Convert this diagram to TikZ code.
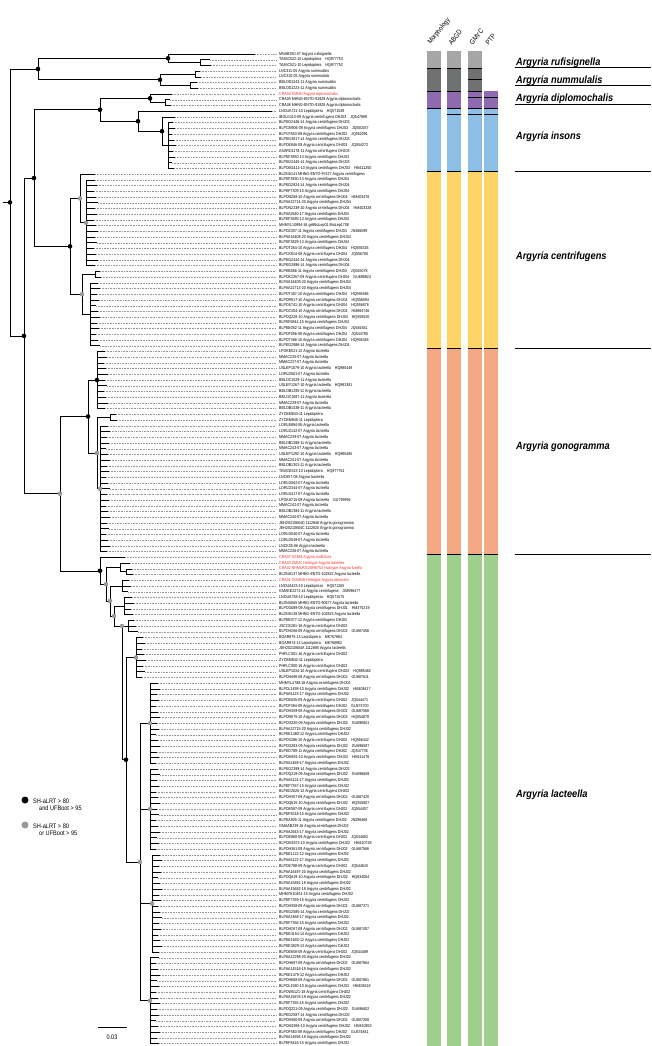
\documentclass[tikz,border=0pt]{standalone}
\usepackage{fontspec}
\setmainfont{Liberation Sans}
\newfontfamily\tipf[FakeStretch=0.86]{Liberation Sans}
\newfontfamily\cladef[FakeStretch=0.88]{Liberation Sans}
\definecolor{gL}{HTML}{A7A6A6}
\definecolor{gD}{HTML}{6F7172}
\definecolor{pur}{HTML}{8E6BB1}
\definecolor{blu}{HTML}{8DBFE6}
\definecolor{yel}{HTML}{FFD466}
\definecolor{sal}{HTML}{F4A883}
\definecolor{grn}{HTML}{9ECF8D}
\definecolor{tipred}{HTML}{E8332A}
\definecolor{dotg}{HTML}{999999}
\newcommand\rd{\color{tipred}}
\newcommand\g{\hspace{4pt}}
\def\Y#1{{54+(#1-1)*5.72}}
\def\B#1{{54+(#1-0.5)*5.72}}
\tikzset{
  br/.style={line width=0.6pt},
  lead/.style={line width=0.3pt, dotg, dash pattern=on 0.8pt off 0.8pt},
  tip/.style={anchor=west, inner sep=0pt, font=\tipf\fontsize{4.2}{5}\selectfont},
  clade/.style={anchor=west, inner sep=0pt, font=\cladef\fontsize{10.5}{12}\selectfont\bfseries\itshape},
  head/.style={anchor=south west, inner sep=0pt, rotate=52, font=\tipf\fontsize{7}{8}\selectfont},
  bdot/.style={circle, fill=black, draw=none, inner sep=0pt, minimum size=4.6pt},
  gdot/.style={circle, fill=dotg, draw=none, inner sep=0pt, minimum size=4.6pt},
  sep/.style={line width=0.6pt},
  legt/.style={anchor=west, inner sep=0pt, font=\tipf\fontsize{6.5}{7.5}\selectfont, align=left},
}
% tree helpers: tip branch, polytomy, vertical, horizontal
\newcommand\tipe[3]{\draw[br] (#1,\Y{#2}) -- (#3,\Y{#2}); \draw[lead] (#3,\Y{#2}) -- (276,\Y{#2});}
\newcommand\poly[4]{\draw[br] (#1,\Y{#2}) -- (#1,\Y{#3});
  \foreach \j in {#2,...,#3}{\pgfmathsetmacro\ex{#4+mod(\j*7,5)}\tipe{#1}{\j}{\ex}}}
\newcommand\vl[3]{\draw[br] (#1,#2) -- (#1,#3);}
\newcommand\hl[3]{\draw[br] (#1,#3) -- (#2,#3);}
\begin{document}
\begin{tikzpicture}[x=1pt,y=-1pt]
\useasboundingbox (0,0) rectangle (651,1046);
% ---------- tip labels
\foreach \lab [count=\i] in {
MNAB350-07 Argyria rufisignella,
TAMIC522-10 Lepidoptera\g HQ977753,
TAMIC521-10 Lepidoptera\g HQ977752,
LNC311-05 Argyria nummulalis,
LNC310-05 Argyria nummulalis,
BBLOD1243-11 Argyria nummulalis,
BBLOD1223-11 Argyria nummulalis,
\rd CRA04 CMNH Argyria diplomochalis,
CRA05 MHNG-ENTO-91928 Argyria diplomochalis,
CRA06 MHNG-ENTO-91929 Argyria diplomochalis,
LNOUA721-10 Lepidoptera\g HQ571549,
IBOLG110-09 Argyria centrifugens DHJ03\g JQ547989,
BLPEG2446-14 Argyria centrifugens DHJ03,
BLPCM906-09 Argyria centrifugens DHJ03\g JQ550257,
BLPCF553-09 Argyria centrifugens DHJ03\g JQ552091,
BLPEG3817-14 Argyria centrifugens DHJ03,
BLPDE846-09 Argyria centrifugens DHJ03\g JQ554272,
ASARD1178-11 Argyria centrifugens DHJ03,
BLPEF3850-13 Argyria centrifugens DHJ03,
BLPEG2445-14 Argyria centrifugens DHJ03,
BLPDM2412-10 Argyria centrifugens DHJ03\g HM411250,
BLDNA141 MHNG-ENTO-97427 Argyria centrifugens,
BLPEF3830-13 Argyria centrifugens DHJ04,
BLPEG2824-14 Argyria centrifugens DHJ04,
BLPEF7309-15 Argyria centrifugens DHJ04,
BLPDN268-10 Argyria centrifugens DHJ04\g HM403478,
BLPAA22714-20 Argyria centrifugens DHJ04,
BLPDN2239-10 Argyria centrifugens DHJ04\g HM403328,
BLPAA2640-17 Argyria centrifugens DHJ04,
BLPEF3695-13 Argyria centrifugens DHJ04,
MHMYL10894-16 gelBioLep01 BioLep1708,
BLPDZ307-11 Argyria centrifugens DHJ04\g JN366099,
BLPAA16408-20 Argyria centrifugens DHJ04,
BLPEF3829-13 Argyria centrifugens DHJ04,
BLPDT264-10 Argyria centrifugens DHJ04\g HQ936326,
BLPCK814-08 Argyria centrifugens DHJ04\g JQ556700,
BLPEG2444-14 Argyria centrifugens DHJ04,
BLPEG2896-14 Argyria centrifugens DHJ04,
BLPEB066-11 Argyria centrifugens DHJ04\g JQ545078,
BLPDK2357-09 Argyria centrifugens DHJ04\g GU698824,
BLPAA16409-20 Argyria centrifugens DHJ04,
BLPAA22713-20 Argyria centrifugens DHJ04,
BLPDT407-10 Argyria centrifugens DHJ04\g HQ936386,
BLPDR917-10 Argyria centrifugens DHJ04\g HQ556094,
BLPDS741-10 Argyria centrifugens DHJ04\g HQ556876,
BLPDC304-10 Argyria centrifugens DHJ04\g HM884746,
BLPDQ228-10 Argyria centrifugens DHJ04\g HQ555520,
BLPEF6841-15 Argyria centrifugens DHJ04,
BLPEB352-11 Argyria centrifugens DHJ04\g JQ546361,
BLPDF056-09 Argyria centrifugens DHJ04\g JQ544790,
BLPDT366-10 Argyria centrifugens DHJ04\g HQ936348,
BLPEG2986-14 Argyria centrifugens DHJ04,
LPOKE521-12 Argyria lacteella,
MMAC235-07 Argyria lacteella,
MMAC237-07 Argyria lacteella,
USLEP1079-10 Argyria lacteella\g HQ985449,
LORLD561-07 Argyria lacteella,
BBLOC1529-11 Argyria lacteella,
USLEP1267-10 Argyria lacteella\g HQ983381,
BBLOB1295-11 Argyria lacteella,
BBLOC1087-11 Argyria lacteella,
MMAC239-07 Argyria lacteella,
BBLOB1038-11 Argyria lacteella,
ZYCBM844-11 Lepidoptera,
ZYCBM845-11 Lepidoptera,
LORLB894-06 Argyria lacteella,
LORLD142-07 Argyria lacteella,
MMAC239-07 Argyria lacteella,
BBLOB1288-11 Argyria lacteella,
MMAC243-07 Argyria lacteella,
USLEP1292-10 Argyria lacteella\g HQ985485,
MMAC241-07 Argyria lacteella,
BBLOB1301-11 Argyria lacteella,
TAMCE523-10 Lepidoptera\g HQ977754,
LNC657-08 Argyria lacteella,
LORLD562-07 Argyria lacteella,
LORLD344-07 Argyria lacteella,
LORLD417-07 Argyria lacteella,
LPOKA715-09 Argyria lacteella\g GU799994,
MMAC242-07 Argyria lacteella,
BBLOB1384-11 Argyria lacteella,
MMAC240-07 Argyria lacteella,
JEH20210604D 1112846 Argyria gonogramma,
JEH20210604C 1112820 Argyria gonogramma,
LORLD540-07 Argyria lacteella,
LORLD549-07 Argyria lacteella,
LNCK05-06 Argyria lacteella,
MMAC236-07 Argyria lacteella,
\rd CRA07 USNM Argyria multifacta,
\rd CRA03 ZMUC Holotype Argyria lacteella,
\rd CRA02 NHMUK010896753 Holotype Argyria lusella,
BLDNA137 MHNG-ENTO-102822 Argyria lacteella,
\rd CRA01 OUMNH Holotype Argyria abronalis,
LNOUA423-10 Lepidoptera\g HQ571265,
GMAKE2271-14 Argyria centrifugens\g OM596477,
LNOUA758-10 Lepidoptera\g HQ571575,
BLDNA065 MHNG-ENTO-90677 Argyria lacteella,
BLPDG089-09 Argyria centrifugens DHJ01\g HM375219,
BLDNA138 MHNG-ENTO-102823 Argyria lacteella,
BLPEB377-12 Argyria centrifugens DHJ02,
JSCCE281-16 Argyria centrifugens DHJ02,
BLPDH266-09 Argyria centrifugens DHJ02\g GU687456,
BOAR875-13 Lepidoptera\g MK767864,
BOAR874-13 Lepidoptera\g MK768962,
JEH20210604A 1112885 Argyria lacteella,
PHFLC001-16 Argyria centrifugens DHJ02,
ZYCBM842-11 Lepidoptera,
PHFLC000-16 Argyria centrifugens DHJ02,
USLEP1034-10 Argyria centrifugens DHJ02\g HQ985482,
BLPDH496-09 Argyria centrifugens DHJ02\g GU687611,
MHMYL4788-16 Argyria centrifugens DHJ02,
BLPDL1499-10 Argyria centrifugens DHJ02\g HM408417,
BLPAA5123-17 Argyria centrifugens DHJ02,
BLPDE635-09 Argyria centrifugens DHJ02\g JQ544471,
BLPDF384-09 Argyria centrifugens DHJ02\g GU674700,
BLPDH359-09 Argyria centrifugens DHJ02\g GU687568,
BLPDR675-10 Argyria centrifugens DHJ02\g HQ554878,
BLPDG220-09 Argyria centrifugens DHJ02\g GU696601,
BLPAA22715-20 Argyria centrifugens DHJ02,
BLPEE1480-12 Argyria centrifugens DHJ02,
BLPDS286-10 Argyria centrifugens DHJ02\g HQ556442,
BLPDG283-09 Argyria centrifugens DHJ02\g GU696587,
BLPED789-11 Argyria centrifugens DHJ02\g JQ547735,
BLPDM491-10 Argyria centrifugens DHJ02\g HM411476,
BLPAA2469-17 Argyria centrifugens DHJ02,
BLPEG2399-14 Argyria centrifugens DHJ02,
BLPDQ219-09 Argyria centrifugens DHJ02\g GU696608,
BLPAA5124-17 Argyria centrifugens DHJ02,
BLPEF7357-15 Argyria centrifugens DHJ02,
BLPED2626-12 Argyria centrifugens DHJ02,
BLPDH357-09 Argyria centrifugens DHJ02\g GU687420,
BLPDQ615-10 Argyria centrifugens DHJ02\g HQ555807,
BLPDE597-09 Argyria centrifugens DHJ02\g JQ554457,
BLPEF8318-15 Argyria centrifugens DHJ02,
BLPEA805-11 Argyria centrifugens DHJ02\g JN296468,
GMAAB239-16 Argyria centrifugens DHJ02,
BLPAA2643-17 Argyria centrifugens DHJ02,
BLPDE860-09 Argyria centrifugens DHJ02\g JQ544662,
BLPDM1872-10 Argyria centrifugens DHJ02\g HM410728,
BLPDH361-09 Argyria centrifugens DHJ02\g GU687566,
BLPEE1122-12 Argyria centrifugens DHJ02,
BLPAA5122-17 Argyria centrifugens DHJ02,
BLPDE788-09 Argyria centrifugens DHJ02\g JQ544615,
BLPAA16497-20 Argyria centrifugens DHJ02,
BLPDQ619-10 Argyria centrifugens DHJ02\g HQ834064,
BLPAA15681-19 Argyria centrifugens DHJ02,
BLPAA15682-19 Argyria centrifugens DHJ02,
MHMYK10451-15 Argyria centrifugens DHJ02,
BLPEF7359-15 Argyria centrifugens DHJ02,
BLPDH358-09 Argyria centrifugens DHJ02\g GU687371,
BLPEG2585-14 Argyria centrifugens DHJ02,
BLPAA2468-17 Argyria centrifugens DHJ02,
BLPEF7356-15 Argyria centrifugens DHJ02,
BLPDH267-09 Argyria centrifugens DHJ02\g GU687457,
BLPEE4154-14 Argyria centrifugens DHJ02,
BLPEE1603-12 Argyria centrifugens DHJ02,
BLPEE3829-13 Argyria centrifugens DHJ02,
BLPDE658-09 Argyria centrifugens DHJ02\g JQ544489,
BLPAA22298-20 Argyria centrifugens DHJ02,
BLPDH687-09 Argyria centrifugens DHJ02\g GU687664,
BLPAA14518-19 Argyria centrifugens DHJ02,
BLPEE1479-12 Argyria centrifugens DHJ02,
BLPDH668-09 Argyria centrifugens DHJ02\g GU687661,
BLPDL1580-10 Argyria centrifugens DHJ02\g HM408418,
BLPDW5121-18 Argyria centrifugens DHJ02,
BLPAA15678-19 Argyria centrifugens DHJ02,
BLPEF7355-15 Argyria centrifugens DHJ02,
BLPDQ221-09 Argyria centrifugens DHJ02\g GU696602,
BLPEG2587-14 Argyria centrifugens DHJ02,
BLPDH360-09 Argyria centrifugens DHJ02\g GU687269,
BLPDM1994-10 Argyria centrifugens DHJ02\g HM410853,
BLPDF583-09 Argyria centrifugens DHJ02\g GU674841,
BLPAA14694-19 Argyria centrifugens DHJ02,
BLPEF8416-15 Argyria centrifugens DHJ02}
{\node[tip] (t\i) at (279,\Y{\i}) {\lab};}

% ---------- colour bars
\foreach \xa/\xb in {427/441, 447/461, 468/482}{
  \fill[gL] (\xa,51.1) rectangle (\xb,\B{3});
  \fill[gD] (\xa,\B{3}) rectangle (\xb,\B{7});
}
\foreach \xa/\xb in {427/441, 447/461, 468/482, 484/498}{
  \fill[pur] (\xa,\B{7}) rectangle (\xb,\B{10});
  \fill[blu] (\xa,\B{10}) rectangle (\xb,\B{21});
  \fill[yel] (\xa,\B{21}) rectangle (\xb,\B{52});
  \fill[sal] (\xa,\B{52}) rectangle (\xb,\B{88});
  \fill[grn] (\xa,\B{88}) rectangle (\xb,1046);
}
\foreach \k in {3,7,10,21,52,88} \draw[sep] (427,\B{\k}) -- (441,\B{\k});
\foreach \k in {3,7,10,11,21,52,88} \draw[sep] (447,\B{\k}) -- (461,\B{\k});
\foreach \k in {3,5,7,8,10,11,21,52,88} \draw[sep] (468,\B{\k}) -- (482,\B{\k});
\foreach \k in {8,10,11,21,52,88} \draw[sep] (484,\B{\k}) -- (498,\B{\k});

% headers
\node[head] (hM) at (432,46) {Morphology};
\node[head] (hA) at (452,46) {ABGD};
\node[head] (hG) at (473,46) {GMYC};
\node[head] (hP) at (489,46) {PTP};

% clade names
\node[clade] (c1) at (516,63) {Argyria rufisignella};
\node[clade] (c2) at (516,80.5) {Argyria nummulalis};
\node[clade] (c3) at (516,99) {Argyria diplomochalis};
\node[clade] (c4) at (516,137) {Argyria insons};
\node[clade] (c5) at (516,257) {Argyria centrifugens};
\node[clade] (c6) at (516,447) {Argyria gonogramma};
\node[clade] (c7) at (516,795) {Argyria lacteella};
\foreach \yy in {67.7,85,104.3,171.3,348.6,554.5} \draw[sep] (515,\yy) -- (651,\yy);

% ---------- tree
% root
\hl{3}{10}{202.4}
\vl{10}{69}{335.9} \hl{10}{38}{69} \hl{10}{24}{335.9}
% rufisignella + nummulalis
\vl{38}{58.3}{79.74} \hl{38}{168}{58.3} \hl{38}{160}{79.74}
\vl{168}{54}{62.58} \tipe{168}{1}{255} \hl{168}{200}{62.58}
\vl{200}{59.72}{65.44} \tipe{200}{2}{210} \tipe{200}{3}{211}
\vl{160}{74.02}{85.46} \hl{160}{195}{74.02} \hl{160}{190}{85.46}
\vl{195}{71.16}{76.88} \tipe{195}{4}{200} \tipe{195}{5}{201}
\vl{190}{82.6}{88.32} \tipe{190}{6}{197} \tipe{190}{7}{198}
% rest of ingroup
\vl{24}{178.06}{493.7} \hl{24}{34}{178.06} \hl{24}{60}{493.7}
\vl{34}{109.77}{246.34} \hl{34}{100}{109.77} \hl{34}{70}{246.34}
% diplomochalis + insons
\vl{100}{98.33}{121.21} \hl{100}{150}{98.33} \hl{100}{138}{121.21}
\vl{150}{94.04}{102.62} \tipe{150}{8}{172} \hl{150}{165}{102.62}
\vl{165}{99.76}{105.48} \tipe{165}{9}{170} \tipe{165}{10}{171}
\vl{138}{111.2}{131.22} \tipe{138}{11}{272} \hl{138}{162}{131.22}
\vl{162}{116.92}{145.52} \tipe{162}{12}{175} \hl{162}{168}{145.52}
\poly{168}{13}{21}{172}
% centrifugens
\vl{70}{198.43}{294.24} \hl{70}{80}{198.43} \hl{70}{82}{294.24}
\vl{80}{174.12}{222.74} \tipe{80}{22}{95} \hl{80}{86}{222.74}
\poly{86}{23}{38}{94}
\vl{82}{274.22}{314.26} \hl{82}{95}{274.22} \hl{82}{90}{314.26}
\vl{95}{271.36}{277.08} \tipe{95}{39}{100} \tipe{95}{40}{101}
\poly{90}{41}{52}{96}
% gonogramma + lacteella
\vl{60}{416.5}{570.8} \hl{60}{88}{416.5} \hl{60}{100}{570.8}
\vl{88}{380.04}{452.97} \hl{88}{97}{380.04} \hl{88}{97}{452.97}
\poly{97}{53}{63}{104}
\vl{97}{417.22}{488.72} \hl{97}{110}{417.22} \hl{97}{100}{488.72}
\vl{110}{414.36}{420.08} \tipe{110}{64}{116} \tipe{110}{65}{117}
\poly{100}{66}{88}{106}
% lacteella
\vl{100}{557.36}{584.2} \tipe{100}{89}{125} \hl{100}{106}{584.2}
\vl{106}{567.37}{601} \hl{106}{120}{567.37} \hl{106}{110}{601}
\vl{120}{563.08}{571.66} \tipe{120}{90}{130} \hl{120}{126}{571.66}
\vl{126}{568.8}{574.52} \tipe{126}{91}{132} \tipe{126}{92}{133}
\vl{110}{585.96}{616} \hl{110}{122}{585.96} \hl{110}{114}{616}
\poly{122}{93}{95}{128}
\vl{114}{606}{626} \hl{114}{124}{606} \hl{114}{122}{626}
\poly{124}{96}{99}{130}
\vl{122}{626}{759.7} \hl{122}{128}{626} \hl{122}{126}{759.7}
\poly{128}{100}{102}{134}
\vl{126}{657.46}{861.95} \hl{126}{136}{657.46} \hl{126}{140}{861.95}
\poly{136}{103}{110}{142}
\vl{140}{723.24}{1000.66} \hl{140}{150}{723.24} \hl{140}{150}{809.04}
\hl{140}{152}{903.42} \hl{140}{150}{1000.66}
\poly{150}{111}{125}{156}
\poly{150}{126}{140}{156}
\poly{152}{141}{158}{158}
\poly{150}{159}{174}{156}
% support dots
\foreach \px/\py [count=\k] in {10/202.4, 38/69, 168/58.3, 160/79.74, 24/335.9, 34/178.06,
  100/109.77, 150/98.33, 138/121.21, 162/131.22, 70/246.34, 88/416.5, 100/570.8, 97/380.04, 126/759.7}
  \node[bdot] (bn\k) at (\px,\py) {};
\foreach \px/\py [count=\k] in {60/493.7, 80/198.43, 82/294.24, 86/222.74, 97/452.97, 100/488.72,
  106/584.2, 110/601, 114/616, 122/626, 140/861.95, 150/723.24, 150/809.04, 152/903.42, 150/1000.66, 136/657.46}
  \node[gdot] (gn\k) at (\px,\py) {};

% ---------- legend
\node[bdot, minimum size=7pt] (lb) at (25,800) {};
\node[legt] (lbt) at (33,805) {SH-aLRT > 80\\\hspace{6pt}and UFBoot > 95};
\node[gdot, minimum size=7pt] (lg) at (25,825) {};
\node[legt] (lgt) at (33,830) {SH-aLRT > 80\\\hspace{6pt}or UFBoot > 95};
% scale bar
\coordinate (s1) at (98,1027);
\coordinate (s2) at (127,1027);
\draw[br] (s1) -- (s2);
\node[inner sep=0pt, font=\tipf\fontsize{6.5}{7.5}\selectfont] (sl) at (112,1037) {0.03};
\end{tikzpicture}
\end{document}
